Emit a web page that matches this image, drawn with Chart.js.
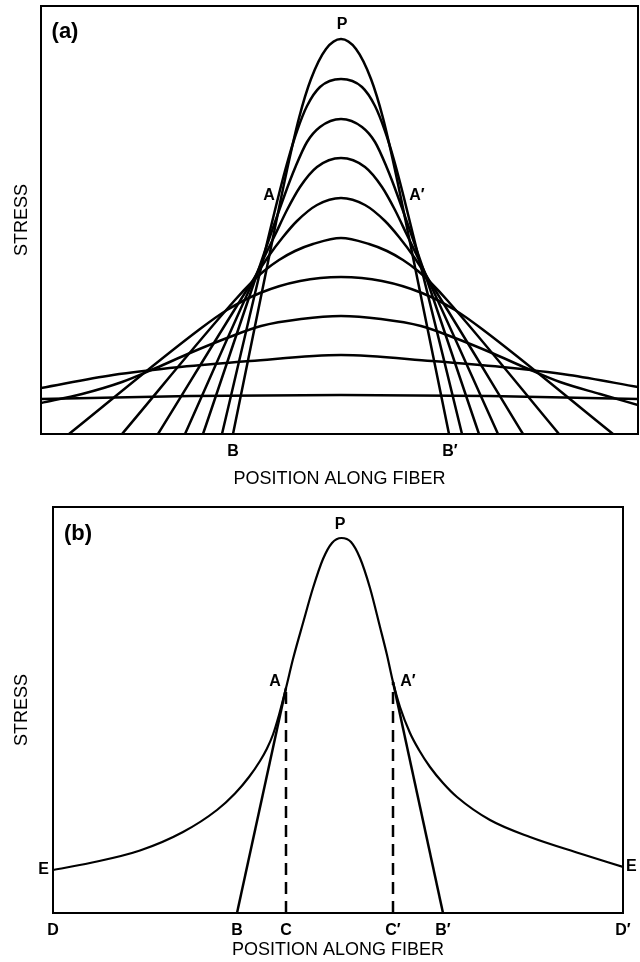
<!DOCTYPE html>
<html>
<head>
<meta charset="utf-8">
<script src="https://cdn.jsdelivr.net/npm/chart.js@4.4.0/dist/chart.umd.min.js"></script>
<style>
  html, body { margin: 0; padding: 0; background: #fff; }
  #wrapA { position: absolute; left: 0; top: 0; width: 640px; height: 490px; }
  #wrapB { position: absolute; left: 0; top: 490px; width: 640px; height: 472px; }
</style>
</head>
<body>
<div id="wrapA"><canvas id="chartA"></canvas></div>
<div id="wrapB"><canvas id="chartB"></canvas></div>
<script>
// Panel (a): stress profiles, [position, stress], arbitrary units
const a1 = [[19.2,0],[22.5,16.2],[24.6,26.4],[25.8,31.6],[27.0,35.5],[28.5,38.5],[30.0,39.5],[31.5,38.5],[33.0,35.5],[34.2,31.6],[35.4,26.4],[37.5,16.2],[40.8,0]];
const a2 = [[18.1,0],[23.8,24.0],[24.7,27.4],[25.6,30.3],[26.6,32.8],[27.9,34.7],[30.0,35.5],[32.1,34.7],[33.4,32.8],[34.4,30.3],[35.3,27.4],[36.2,24.0],[42.1,0]];
const a3 = [[16.2,0],[24.4,24.0],[25.4,26.6],[26.6,29.2],[27.9,30.7],[30.0,31.5],[32.1,30.7],[33.4,29.2],[34.6,26.6],[35.6,24.0],[43.8,0]];
const a4 = [[14.4,0],[22.1,17.2],[23.4,19.9],[24.6,22.4],[25.9,24.7],[27.6,26.7],[30.0,27.6],[32.4,26.7],[34.1,24.7],[35.4,22.4],[36.6,19.9],[37.9,17.2],[45.7,0]];
const a5 = [[11.7,0],[21.4,15.7],[22.7,17.7],[24.2,19.7],[25.6,21.3],[27.6,22.9],[30.0,23.6],[32.4,22.9],[34.4,21.3],[35.8,19.7],[37.3,17.7],[38.6,15.7],[48.2,0]];
const a6 = [[8.1,0],[19.4,13.4],[20.9,15.0],[22.3,16.3],[23.8,17.4],[25.4,18.3],[27.2,19.0],[30.0,19.6],[32.8,19.0],[34.6,18.3],[36.2,17.4],[37.7,16.3],[39.1,15.0],[40.6,13.4],[51.8,0]];
const a7 = [[2.8,0],[15.9,10.5],[18.6,12.4],[21.9,14.1],[25.9,15.3],[30.0,15.7],[34.1,15.3],[38.1,14.1],[41.4,12.4],[44.1,10.5],[57.2,0]];
const a8 = [[0,3.1],[4.1,4.0],[8.1,5.2],[11.5,6.6],[14.9,8.1],[18.6,9.6],[22.0,10.8],[26.0,11.5],[30.0,11.8],[34.0,11.5],[38.0,10.8],[41.4,9.6],[45.1,8.1],[48.5,6.6],[51.9,5.2],[55.9,4.0],[59.7,2.9]];
const a9 = [[0,4.6],[7.2,5.9],[13.9,6.7],[20.9,7.3],[30.0,7.9],[39.1,7.3],[46.1,6.7],[52.8,5.9],[59.7,4.7]];
const a10 = [[0,3.5],[14.9,3.8],[30.0,3.9],[44.9,3.8],[59.7,3.5]];
const curvesA = [a1, a2, a3, a4, a5, a6, a7, a8, a9, a10];
const xMaxA = 59.7, yMaxA = 42.8;
const tickValsA = [19.2, 40.9];
const tickLabelsA = ['B', 'B′'];
const notesA = [
  { text: '(a)', x: 2.4, y: 40.2, big: true },
  { text: 'P', x: 30.1, y: 40.9 },
  { text: 'A', x: 22.8, y: 23.8 },
  { text: 'A′', x: 37.6, y: 23.8 }
];

// Panel (b): envelope, tangent lines and drops
const envelopeB = [[0,4.3],[3.7,5.0],[8.7,6.25],[13.0,8.1],[16.4,10.3],[18.2,11.95],[19.6,13.6],[20.7,15.2],[21.4,16.45],[22.0,17.85],[22.6,19.8],[23.3,22.5],[24.0,25.4],[25.0,29.0],[26.0,32.5],[27.0,35.4],[27.9,37.0],[28.85,37.5],[29.8,37.1],[30.7,35.5],[31.7,32.5],[32.7,28.6],[33.4,25.8],[34.0,23.1],[34.7,20.6],[35.7,18.0],[36.6,16.3],[37.7,14.6],[39.0,13.0],[40.4,11.6],[43.7,9.3],[47.7,7.6],[52.7,5.95],[57.0,4.6]];
const lineAB = [[18.4,0],[23.3,22.5]];
const lineApBp = [[34.0,23.1],[39.0,0]];
const dropAC = [[23.3,0],[23.3,22.5]];
const dropApCp = [[34.0,0],[34.0,23.1]];
const xMaxB = 57.0, yMaxB = 40.6;
const tickValsB = [0, 18.4, 23.3, 34.0, 39.0, 57.0];
const tickLabelsB = ['D', 'B', 'C', 'C′', 'B′', 'D′'];
const eLeftB = 4.3, eRightB = 4.6;
const notesB = [
  { text: '(b)', x: 2.5, y: 37.9, big: true },
  { text: 'P', x: 28.7, y: 38.8 },
  { text: 'A', x: 22.2, y: 23.1 },
  { text: 'A′', x: 35.5, y: 23.1 }
];

const FONT = "'Liberation Sans', Arial, sans-serif";
const pts = arr => arr.map(p => ({ x: p[0], y: p[1] }));

const framePlugin = {
  id: 'frame',
  afterDatasetsDraw(chart) {
    const { ctx, chartArea: c } = chart;
    ctx.save();
    ctx.strokeStyle = '#000';
    ctx.lineWidth = 2;
    ctx.strokeRect(c.left, c.top, c.right - c.left, c.bottom - c.top);
    ctx.restore();
  }
};

const notesPlugin = {
  id: 'notes',
  afterDraw(chart, args, opts) {
    const { ctx } = chart;
    const x = chart.scales.x, y = chart.scales.y;
    ctx.save();
    ctx.fillStyle = '#000';
    ctx.textAlign = 'center';
    ctx.textBaseline = 'middle';
    (opts.items || []).forEach(n => {
      ctx.font = n.big ? 'bold 22px ' + FONT : 'bold 16px ' + FONT;
      ctx.fillText(n.text, x.getPixelForValue(n.x), y.getPixelForValue(n.y));
    });
    ctx.restore();
  }
};

function lineSet(arr, width, dash, smooth) {
  return {
    data: pts(arr),
    borderColor: '#000',
    borderWidth: width,
    borderDash: dash || [],
    pointRadius: 0,
    fill: false,
    tension: 0,
    cubicInterpolationMode: smooth ? 'monotone' : 'default'
  };
}

function xAxis(max, vals, labels, height, titlePad) {
  return {
    type: 'linear', min: 0, max: max,
    grid: { display: false, drawTicks: false },
    border: { display: false },
    afterBuildTicks: s => { s.ticks = vals.map(v => ({ value: v })); },
    afterFit: s => { s.height = height; },
    ticks: {
      autoSkip: false, maxRotation: 0, padding: 8,
      color: '#000', font: { family: FONT, size: 16, weight: 'bold' },
      callback: (v, i) => labels[i]
    },
    title: {
      display: true, text: 'POSITION ALONG FIBER', color: '#000',
      font: { family: FONT, size: 18 }, padding: { top: 0, bottom: titlePad }
    }
  };
}

function stressAxis(max, extra) {
  return Object.assign({
    type: 'linear', min: 0, max: max,
    grid: { display: false, drawTicks: false },
    border: { display: false },
    title: {
      display: true, text: 'STRESS', color: '#000',
      font: { family: FONT, size: 18 }, padding: { top: 11, bottom: 0 }
    }
  }, extra);
}

// Panel (a)
new Chart(document.getElementById('chartA'), {
  type: 'line',
  data: { datasets: curvesA.map(c => lineSet(c, 2.5, null, true)) },
  options: {
    responsive: true, maintainAspectRatio: false, animation: false,
    layout: { padding: { top: 6, right: 2, left: 0, bottom: 0 } },
    plugins: { legend: { display: false }, tooltip: { enabled: false }, notes: { items: notesA } },
    scales: {
      x: xAxis(xMaxA, tickValsA, tickLabelsA, 56, 0),
      y: stressAxis(yMaxA, {
        ticks: { display: false },
        afterFit: s => { s.width = 41; }
      })
    }
  },
  plugins: [framePlugin, notesPlugin]
});

// Panel (b)
new Chart(document.getElementById('chartB'), {
  type: 'line',
  data: {
    datasets: [
      lineSet(envelopeB, 2.2, null, true),
      lineSet(lineAB, 2.5),
      lineSet(lineApBp, 2.5),
      lineSet(dropAC, 2.5, [12, 7]),
      lineSet(dropApCp, 2.5, [12, 7])
    ]
  },
  options: {
    responsive: true, maintainAspectRatio: false, animation: false,
    layout: { padding: { top: 17, right: 0, left: 0, bottom: 0 } },
    plugins: { legend: { display: false }, tooltip: { enabled: false }, notes: { items: notesB } },
    scales: {
      x: xAxis(xMaxB, tickValsB, tickLabelsB, 49, 1),
      y: stressAxis(yMaxB, {
        afterBuildTicks: s => { s.ticks = [{ value: eLeftB }]; },
        afterFit: s => { s.width = 53; },
        ticks: { padding: 4, color: '#000', font: { family: FONT, size: 16, weight: 'bold' }, callback: () => 'E' }
      }),
      y2: {
        type: 'linear', position: 'right', min: 0, max: yMaxB,
        grid: { display: false, drawTicks: false },
        border: { display: false },
        afterBuildTicks: s => { s.ticks = [{ value: eRightB }]; },
        afterFit: s => { s.width = 17; },
        ticks: { padding: 3, color: '#000', font: { family: FONT, size: 16, weight: 'bold' }, callback: () => 'E' }
      }
    }
  },
  plugins: [framePlugin, notesPlugin]
});
</script>
</body>
</html>
